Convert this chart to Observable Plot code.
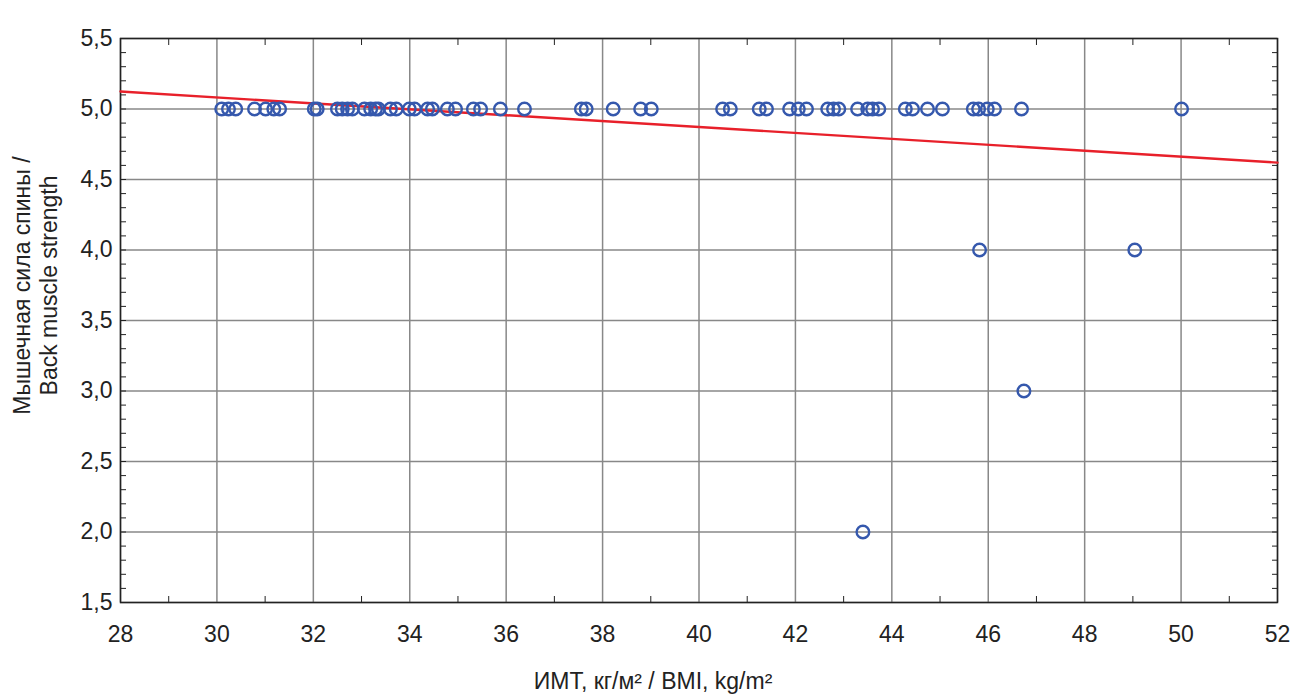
<!DOCTYPE html>
<html><head><meta charset="utf-8">
<script src="https://cdn.jsdelivr.net/npm/d3@7"></script>
<script src="https://cdn.jsdelivr.net/npm/@observablehq/plot@0.6"></script>
<style>
html,body{margin:0;padding:0;background:#fff;}
</style>
</head><body><div id="chart"></div>
<script>
// BMI values of the observations and back muscle strength scores
const bmi = [30.10,30.24,30.39,30.78,31.01,31.18,31.30,32.02,32.08,32.50,32.60,32.71,32.81,33.06,33.19,33.29,33.35,33.60,33.72,33.99,34.10,34.37,34.47,34.78,34.95,35.32,35.47,35.88,36.38,37.56,37.66,38.22,38.79,39.01,40.49,40.65,41.25,41.40,41.88,42.06,42.23,42.67,42.79,42.90,43.29,43.50,43.60,43.73,44.28,44.43,44.74,45.05,45.69,45.80,45.98,46.13,46.69,50.01,
  45.82,49.04,46.74,43.40];
const strength = [5,5,5,5,5,5,5,5,5,5,5,5,5,5,5,5,5,5,5,5,5,5,5,5,5,5,5,5,5,5,5,5,5,5,5,5,5,5,5,5,5,5,5,5,5,5,5,5,5,5,5,5,5,5,5,5,5,5,
  4,4,3,2];
// fitted line endpoints
const fitX = [28, 52];
const fitY = [5.124, 4.62];
const xTicks = [28,30,32,34,36,38,40,42,44,46,48,50,52];
const xMinor = [29,31,33,35,37,39,41,43,45,47,49,51];
const yTicks = [1.5,2.0,2.5,3.0,3.5,4.0,4.5,5.0,5.5];
const yMinor = d3.range(15, 56).map(d => d / 10);
const xTitle = "ИМТ, кг/м² / BMI, kg/m²";
const yTitle = "Мышечная сила спины /\nBack muscle strength";

const points = bmi.map((x, i) => ({x, y: strength[i]}));
const fit = fitX.map((x, i) => ({x, y: fitY[i]}));
const fmt = d => d.toFixed(1).replace(".", ",");

const chart = Plot.plot({
  width: 1293,
  height: 695,
  marginLeft: 120,
  marginRight: 16,
  marginTop: 38,
  marginBottom: 93,
  style: {fontFamily: "'Liberation Sans', Arial, sans-serif", fontSize: "23px", color: "#222", background: "#fff"},
  x: {domain: [28, 52]},
  y: {domain: [1.5, 5.5]},
  marks: [
    Plot.gridX(xTicks, {stroke: "#888", strokeOpacity: 1, strokeWidth: 1.5}),
    Plot.gridY(yTicks, {stroke: "#888", strokeOpacity: 1, strokeWidth: 1.5}),
    Plot.axisX(xTicks, {anchor: "bottom", tickSize: 0, tickPadding: 23, fontSize: 23, fill: "#222", label: null}),
    Plot.axisY(yTicks, {anchor: "left", tickSize: 0, tickPadding: 8, tickFormat: fmt, fontSize: 23, fill: "#222", label: null}),
    Plot.axisX(xMinor, {anchor: "bottom", tickSize: -6, text: null, stroke: "#222", label: null}),
    Plot.axisX(xMinor, {anchor: "top", tickSize: -6, text: null, stroke: "#222", label: null}),
    Plot.axisY(yMinor, {anchor: "left", tickSize: -6, text: null, stroke: "#222", label: null}),
    Plot.axisY(yMinor, {anchor: "right", tickSize: -6, text: null, stroke: "#222", label: null}),
    Plot.frame({stroke: "#222", strokeWidth: 1.5}),
    Plot.line(fit, {x: "x", y: "y", stroke: "#e8202a", strokeWidth: 2.4}),
    Plot.dot(points, {x: "x", y: "y", r: 6.3, stroke: "#3558ad", strokeWidth: 2.4, fill: "none"}),
    Plot.text([xTitle], {frameAnchor: "bottom", lineAnchor: "middle", textAnchor: "middle", dy: 79, dx: -46, fontSize: 23, fill: "#222", text: d => d}),
    Plot.text([yTitle], {frameAnchor: "left", textAnchor: "middle", lineAnchor: "middle", dx: -86, dy: -35, rotate: -90, fontSize: 23, lineHeight: 1.17, fill: "#222", text: d => d})
  ]
});
document.getElementById("chart").appendChild(chart);
</script>
</body></html>
